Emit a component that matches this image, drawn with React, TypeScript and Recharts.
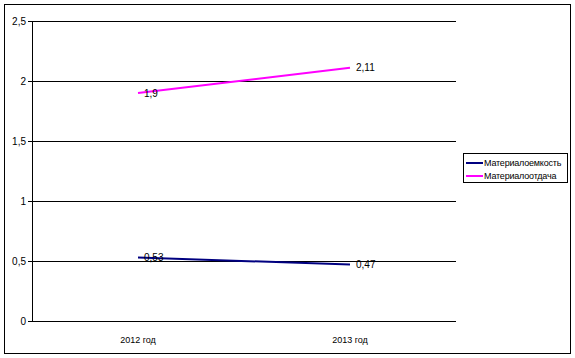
import React from 'react';
import { LineChart, Line, XAxis, YAxis, CartesianGrid, Legend, LabelList } from 'recharts';

const years = ['2012 год', '2013 год'];
const materialoemkost = [0.53, 0.47];
const materialootdacha = [1.9, 2.11];
const yTicks = [0, 0.5, 1, 1.5, 2, 2.5];

const series = [
  { key: 'me', name: 'Материалоемкость', color: '#000080' },
  { key: 'mo', name: 'Материалоотдача', color: '#FF00FF' },
];

const data = years.map((y, i) => ({ year: y, me: materialoemkost[i], mo: materialootdacha[i] }));

const FONT = '"Liberation Sans", Arial, sans-serif';
const comma = (v: any) => String(v).replace('.', ',');

const LegendBox = () => (
  <div style={{ border: '1px solid #000', width: 105, height: 30, boxSizing: 'border-box', padding: '2px 0 0 2px', fontFamily: FONT, fontSize: 9, letterSpacing: -0.2, background: '#fff' }}>
    {series.map(s => (
      <div key={s.key} style={{ display: 'flex', alignItems: 'center', height: 12, marginTop: 1 }}>
        <span style={{ display: 'inline-block', width: 17, height: 2, background: s.color, marginRight: 1 }} />
        <span style={{ color: '#000', whiteSpace: 'nowrap' }}>{s.name}</span>
      </div>
    ))}
  </div>
);

export default function App() {
  return (
    <div style={{ position: 'fixed', left: 0, top: 0, width: 575, height: 358, background: '#fff' }}>
      <div style={{ position: 'absolute', left: 4, top: 4, width: 567, height: 350, border: '1px solid #000', boxSizing: 'border-box' }} />
      <div style={{ position: 'absolute', left: 0, top: 0 }}>
        <LineChart width={575} height={358} data={data} margin={{ top: 21, right: 119, bottom: 7, left: 0 }}>
          <CartesianGrid vertical={false} stroke="#000" strokeWidth={1} shapeRendering="crispEdges" />
          <XAxis dataKey="year" height={30} padding={{ left: 106, right: 106 }} tickLine={false} axisLine={{ stroke: '#000', shapeRendering: 'crispEdges' }}
            tick={{ fill: '#000', fontSize: 9, fontFamily: FONT }} tickMargin={10} />
          <XAxis xAxisId="top" orientation="top" dataKey="year" height={0} tick={false} tickLine={false} axisLine={{ stroke: '#808080', shapeRendering: 'crispEdges' }} />
          <YAxis domain={[0, 2.5]} ticks={yTicks} width={32} tickFormatter={comma} interval={0}
            axisLine={{ stroke: '#000', shapeRendering: 'crispEdges' }} tickLine={{ stroke: '#000', shapeRendering: 'crispEdges' }} tickSize={4} tickMargin={2}
            tick={{ fill: '#000', fontSize: 10, fontFamily: FONT }} />
          <YAxis yAxisId="right" orientation="right" width={0} domain={[0, 2.5]} tick={false} tickLine={false} axisLine={{ stroke: '#808080', shapeRendering: 'crispEdges' }} />
          <Legend layout="horizontal" verticalAlign="middle" align="center" content={() => <LegendBox />}
            wrapperStyle={{ left: 463, top: 153, width: 105, height: 30 }} />
          {series.map(s => (
            <Line key={s.key} dataKey={s.key} name={s.name} stroke={s.color} strokeWidth={2} dot={false} isAnimationActive={false}>
              <LabelList dataKey={s.key} position="right" offset={6} formatter={comma} fill="#000" fontSize={10} fontFamily={FONT} />
            </Line>
          ))}
        </LineChart>
      </div>
    </div>
  );
}
